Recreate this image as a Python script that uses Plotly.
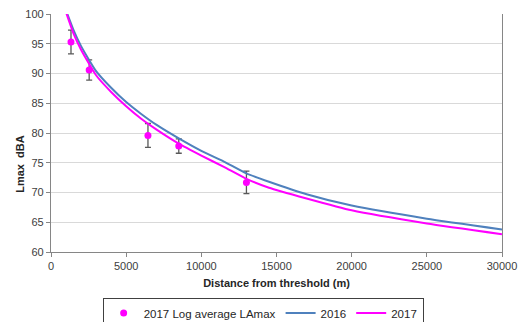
import plotly.graph_objects as go

# Measured points (2017 log average LAmax)
pt_dist = [1330, 2540, 6450, 8500, 13000]
pt_lmax = [95.3, 90.6, 79.6, 77.8, 71.7]
pt_err = [2.0, 1.7, 2.0, 1.2, 1.9]

# Curves
curve_dist = [1000, 1500, 2000, 3000, 4000, 5000, 6000, 7000, 8500, 10000,
              11500, 13000, 14500, 17000, 20000, 25000, 30000]
lmax_2016 = [100.6, 97.3, 94.6, 90.4, 87.6, 85.2, 83.2, 81.4, 79.1, 77.0,
             75.2, 73.2, 71.8, 69.7, 67.8, 65.6, 63.8]
lmax_2017 = [100.3, 96.7, 94.0, 89.7, 86.9, 84.5, 82.4, 80.6, 78.2, 76.2,
             74.3, 72.3, 70.8, 69.0, 67.0, 64.8, 63.0]

x_ticks = [0, 5000, 10000, 15000, 20000, 25000, 30000]
y_ticks = [60, 65, 70, 75, 80, 85, 90, 95, 100]

FONT = "Liberation Sans, Arial, sans-serif"
TXT = "#404040"

fig = go.Figure()
fig.add_trace(go.Scatter(
    x=pt_dist, y=pt_lmax, mode="markers", name="2017 Log average LAmax",
    marker=dict(color="#FF00FF", size=7),
    error_y=dict(type="data", array=pt_err, visible=True, color="#595959",
                 thickness=1.3, width=3),
))
fig.add_trace(go.Scatter(
    x=curve_dist, y=lmax_2016, mode="lines", name="2016",
    line=dict(color="#4F81BD", width=2, shape="spline", smoothing=0.5),
))
fig.add_trace(go.Scatter(
    x=curve_dist, y=lmax_2017, mode="lines", name="2017",
    line=dict(color="#FF00FF", width=2, shape="spline", smoothing=0.5),
))

fig.update_layout(
    width=518, height=322,
    margin=dict(l=51, r=16, t=14, b=70, autoexpand=False),
    paper_bgcolor="white", plot_bgcolor="white",
    font=dict(family=FONT, size=11, color=TXT),
    showlegend=True,
    legend=dict(orientation="h", xref="container", x=0.508, xanchor="center",
                yref="container", y=0.076, yanchor="top",
                bordercolor="#404040", borderwidth=1,
                font=dict(family=FONT, size=11.5, color="#262626"),
                itemwidth=30, tracegroupgap=0),
    xaxis=dict(range=[0, 30000], tickvals=x_ticks, ticktext=[str(v) for v in x_ticks],
               showgrid=False, zeroline=False, automargin=False,
               showline=True, linecolor="#868686", linewidth=1.3,
               ticks="outside", ticklen=4, tickcolor="#868686",
               tickfont=dict(size=11, color=TXT),
               title=dict(text="<b>Distance from threshold (m)</b>",
                          font=dict(size=11, color="#262626"), standoff=7)),
    yaxis=dict(range=[60, 100], tickvals=y_ticks, ticktext=[str(v) for v in y_ticks],
               showgrid=True, gridcolor="#D9D9D9", gridwidth=1.2, zeroline=False,
               automargin=False,
               showline=True, linecolor="#868686", linewidth=1.3, mirror=True,
               ticks="outside", ticklen=4, tickcolor="#868686",
               tickfont=dict(size=11, color=TXT)),
)

fig.add_annotation(
    text="<b>Lmax\u00a0\u00a0dBA</b>", xref="paper", yref="paper",
    x=-0.069, xanchor="center", y=0.37, yanchor="middle",
    textangle=-90, showarrow=False,
    font=dict(family=FONT, size=11, color="#262626"),
)

fig.write_html(
    "out.html",
    config={"displayModeBar": False},
    post_script="document.body.style.margin='0';document.body.style.overflow='hidden';",
)
